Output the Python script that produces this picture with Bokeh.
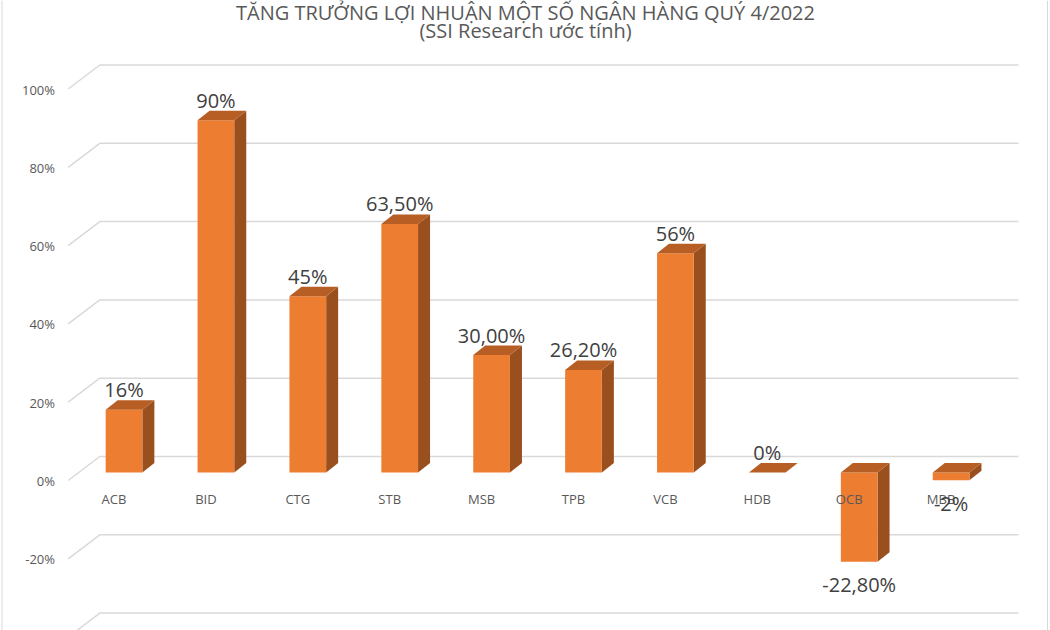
from bokeh.plotting import figure
from bokeh.models import Range1d, Span
from bokeh.core.properties import value
from bokeh.embed import file_html
from bokeh.resources import INLINE

# ---------------- data ----------------
banks = ["ACB", "BID", "CTG", "STB", "MSB", "TPB", "VCB", "HDB", "OCB", "MBB"]
growth = [16, 90, 45, 63.5, 30, 26.2, 56, 0, -22.8, -2]
growth_labels = ["16%", "90%", "45%", "63,50%", "30,00%", "26,20%", "56%", "0%", "-22,80%", "-2%"]
grid_values = [-40, -20, 0, 20, 40, 60, 80, 100]
tick_values = [-20, 0, 20, 40, 60, 80, 100]
tick_labels = ["-20%", "0%", "20%", "40%", "60%", "80%", "100%"]
title_line1 = "TĂNG TRƯỞNG LỢI NHUẬN MỘT SỐ NGÂN HÀNG QUÝ 4/2022"
title_line2 = "(SSI Research ước tính)"

# ---------------- layout (pixel geometry of the 3D projection) ----------------
W, H = 1050, 630
X0_PX = 123.5      # pixel centre of first bar front face
STEP_PX = 91.9     # pixel distance between categories
Y0_PX = 472.0      # pixel of 0% on the bars' front plane
PXY = 3.915        # pixels per percentage point


def ax(px):   # absolute pixel x -> x units
    return (px - X0_PX) / STEP_PX


def dx(px):   # pixel offset -> x units
    return px / STEP_PX


def dy(px):   # pixel offset (upwards) -> y units
    return px / PXY


def ay(px):   # absolute pixel y -> y units
    return (Y0_PX - px) / PXY


FONT = value("Open Sans")
FRONT, SIDE, TOP = "#ED7D31", "#9A4F1E", "#B65E23"
GRID = "#D9D9D9"

p = figure(width=W, height=H, output_backend="svg", toolbar_location=None,
           x_range=Range1d(ax(0), ax(W)), y_range=Range1d(ay(H), ay(0)),
           x_axis_location=None, y_axis_location=None, min_border=0,
           background_fill_color="white", border_fill_color="white")
p.grid.visible = False
p.outline_line_color = None

# chart-area border
for bx in (1.5, 1047.0):
    p.add_layout(Span(location=ax(bx), dimension="height", line_color=GRID, line_width=1))

# back-wall gridlines with left-wall diagonals
gx = [[ax(67.7), ax(99.3), ax(1018)] for _ in grid_values]
gy = [[v - dy(8), v + dy(16), v + dy(16)] for v in grid_values]
p.multi_line(xs=gx, ys=gy, line_color=GRID, line_width=1.5)

# bars
half = dx(18.35)
ddx, ddy = dx(12), dy(9.5)
idx = list(range(len(banks)))
tops = [max(v, 0) for v in growth]
bots = [min(v, 0) for v in growth]

side_xs = [[i + half, i + half, i + half + ddx, i + half + ddx] for i in idx]
side_ys = [[b, t, t + ddy, b + ddy] for t, b in zip(tops, bots)]
top_xs = [[i - half, i + half, i + half + ddx, i - half + ddx] for i in idx]
top_ys = [[t, t, t + ddy, t + ddy] for t in tops]

p.patches(xs=side_xs, ys=side_ys, fill_color=SIDE, line_color=None)
p.quad(left=[i - half for i in idx], right=[i + half for i in idx], top=tops, bottom=bots,
       fill_color=FRONT, line_color=None)
p.patches(xs=top_xs, ys=top_ys, fill_color=TOP, line_color=None)

# y tick labels
p.text(x=[ax(54.5)] * len(tick_values), y=[v - dy(8.5) for v in tick_values], text=tick_labels,
       text_font=FONT, text_font_size="13px", text_color="#595959",
       text_align="right", text_baseline="middle")

# category labels
p.text(x=[i - dx(10) for i in idx], y=[-dy(26)] * len(idx), text=banks,
       text_font=FONT, text_font_size="13px", text_color="#595959",
       text_align="center", text_baseline="middle")

# value labels
lab_y = [t + dy(20) if v >= 0 else b - dy(23) for v, t, b in zip(growth, tops, bots)]
p.text(x=idx, y=lab_y, text=growth_labels,
       text_font=FONT, text_font_size="20px", text_color="#404040",
       text_align="center", text_baseline="middle")

# titles
p.text(x=[ax(525), ax(525)], y=[ay(12), ay(30)], text=[title_line1, title_line2],
       text_font=FONT, text_font_size="20px", text_color="#595959",
       text_align="center", text_baseline="middle")

open("out.html", "w").write(file_html(p, INLINE))
